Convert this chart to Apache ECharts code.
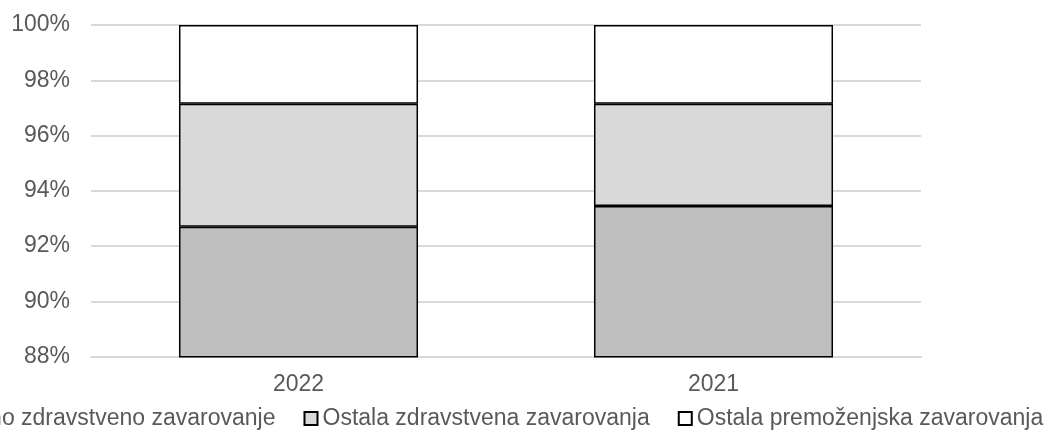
<!DOCTYPE html>
<html>
<head>
<meta charset="utf-8">
<script src="https://cdn.jsdelivr.net/npm/echarts@6/dist/echarts.min.js"></script>
<style>html,body{margin:0;padding:0;background:#fff;}#c{width:1061px;height:435px;}</style>
</head>
<body>
<div id="c"></div>
<script>
const categories = ['2022', '2021'];
const seriesNames = ['Dopolnilno zdravstveno zavarovanje', 'Ostala zdravstvena zavarovanja', 'Ostala premoženjska zavarovanja'];
const dopolnilno = [92.70, 93.45];
const ostalaZdravstvena = [4.45, 3.70];
const ostalaPremozenjska = [2.85, 2.85];
const colors = ['#bfbfbf', '#d9d9d9', '#ffffff'];
const values = [dopolnilno, ostalaZdravstvena, ostalaPremozenjska];

const font = 'Liberation Sans, Arial, sans-serif';
const chart = echarts.init(document.getElementById('c'), null, {renderer: 'canvas'});
chart.setOption({
  animation: false,
  grid: {left: 91, right: 140, top: 25, bottom: 78.3},
  legend: {
    left: -118, top: 402, width: 1400,
    itemWidth: 13, itemHeight: 13, itemGap: 28, icon: 'rect',
    textStyle: {color: '#595959', fontSize: 23, fontFamily: font},
    data: seriesNames.map((n, i) => ({name: n, itemStyle: {color: colors[i], borderColor: '#000', borderWidth: 2}}))
  },
  xAxis: {
    type: 'category', data: categories,
    axisLine: {lineStyle: {color: '#d9d9d9', width: 2}},
    axisTick: {show: false},
    axisLabel: {color: '#595959', fontSize: 23, fontFamily: font, margin: 16}
  },
  yAxis: {
    type: 'value', min: 88, max: 100, interval: 2,
    axisLine: {show: false}, axisTick: {show: false},
    splitLine: {lineStyle: {color: '#d9d9d9', width: 2}},
    axisLabel: {color: '#595959', fontSize: 23, fontFamily: font, margin: 21, formatter: '{value}%'}
  },
  series: seriesNames.map((n, i) => ({
    name: n, type: 'bar', stack: 'total', data: values[i],
    barWidth: '57.6%',
    itemStyle: {color: colors[i], borderColor: '#000', borderWidth: 1.5}
  }))
});
</script>
</body>
</html>
